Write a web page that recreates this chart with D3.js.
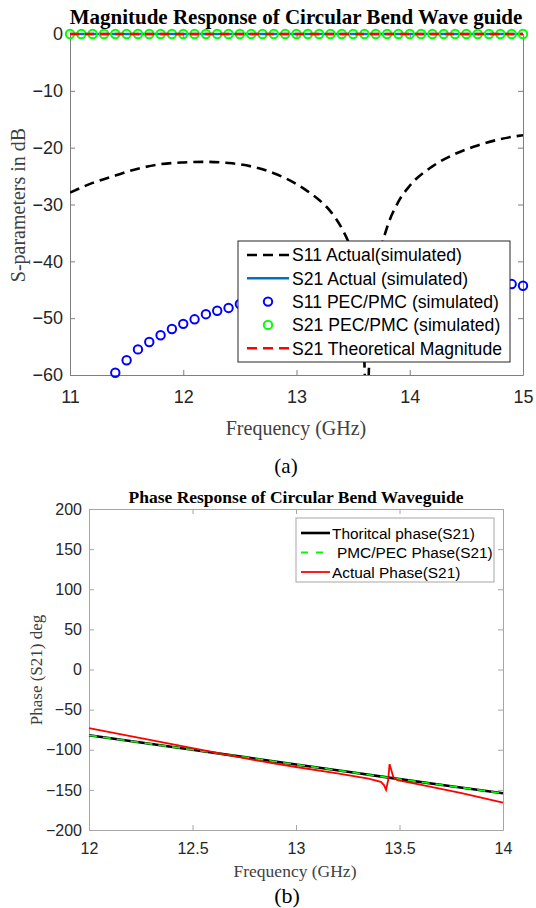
<!DOCTYPE html>
<html lang="en">
    <head>
        <meta charset="utf-8">
        <title>Circular Bend Waveguide</title>
        <script type="text/javascript" src="https://d3js.org/d3.v7.min.js"></script>
        <style type="text/css">
            body{margin:0; background:#fff;}
            svg{display:block;}
            .sans{font-family:"Liberation Sans", Arial, sans-serif;}
            .serif{font-family:"Liberation Serif", "Times New Roman", serif;}
        </style>
    </head>
    <body>
        <div id="chart"></div>
        <script type="text/javascript">

        // ---- (a) magnitude data ----
        var s11ActFreq = [11.0, 11.2, 11.4, 11.6, 11.8, 12.0, 12.2, 12.4, 12.6, 12.8, 13.0, 13.1, 13.2, 13.3, 13.4, 13.45, 13.5, 13.55, 13.6, 13.62, 13.65, 13.7, 13.75, 13.8, 13.9, 14.0, 14.2, 14.4, 14.6, 14.8, 15.0]
        var s11ActDb   = [-27.9, -26.2, -24.9, -23.7, -22.9, -22.6, -22.5, -22.7, -23.3, -24.5, -26.4, -27.7, -29.2, -31.2, -34.2, -36.2, -39.0, -43.5, -58, -70, -52, -42.5, -37.5, -34.0, -29.5, -26.7, -23.3, -21.1, -19.6, -18.5, -17.8]

        var s11PecFreq = [11.4, 11.5, 11.6, 11.7, 11.8, 11.9, 12.0, 12.1, 12.2, 12.3, 12.4, 12.5, 12.6, 12.7, 12.8, 12.9, 13.0, 13.1, 13.2, 13.3, 13.4, 13.5, 13.6, 13.7, 13.8, 13.9, 14.0, 14.1, 14.2, 14.3, 14.4, 14.5, 14.6, 14.7, 14.8, 14.9, 15.0]
        var s11PecDb   = [-59.6, -57.4, -55.5, -54.2, -53.0, -51.9, -51.0, -50.2, -49.3, -48.7, -48.2, -47.5, -47.0, -46.6, -46.2, -45.9, -45.6, -45.4, -45.2, -45.0, -44.9, -44.8, -44.7, -44.6, -44.6, -44.5, -44.5, -44.4, -44.4, -44.4, -44.3, -44.3, -44.3, -44.2, -44.2, -44.0, -44.3]

        var s21Freq = [11.0, 11.1, 11.2, 11.3, 11.4, 11.5, 11.6, 11.7, 11.8, 11.9, 12.0, 12.1, 12.2, 12.3, 12.4, 12.5, 12.6, 12.7, 12.8, 12.9, 13.0, 13.1, 13.2, 13.3, 13.4, 13.5, 13.6, 13.7, 13.8, 13.9, 14.0, 14.1, 14.2, 14.3, 14.4, 14.5, 14.6, 14.7, 14.8, 14.9, 15.0]
        var s21PecDb   = [0, 0, 0, 0, 0, 0, 0, 0, 0, 0, 0, 0, 0, 0, 0, 0, 0, 0, 0, 0, 0, 0, 0, 0, 0, 0, 0, 0, 0, 0, 0, 0, 0, 0, 0, 0, 0, 0, 0, 0, 0]
        var s21ActDb   = [0, 0, 0, 0, 0, 0, 0, 0, 0, 0, 0, 0, 0, 0, 0, 0, 0, 0, 0, 0, 0, 0, 0, 0, 0, 0, 0, 0, 0, 0, 0, 0, 0, 0, 0, 0, 0, 0, 0, 0, 0]
        var s21TheoDb  = [0, 0, 0, 0, 0, 0, 0, 0, 0, 0, 0, 0, 0, 0, 0, 0, 0, 0, 0, 0, 0, 0, 0, 0, 0, 0, 0, 0, 0, 0, 0, 0, 0, 0, 0, 0, 0, 0, 0, 0, 0]

        var magXTicks = [11, 12, 13, 14, 15]
        var magYTicks = [-60, -50, -40, -30, -20, -10, 0]

        // ---- (b) phase data ----
        var theoFreq  = [12.0, 12.25, 12.5, 12.75, 13.0, 13.25, 13.5, 13.75, 14.0]
        var theoPhase = [-82, -91, -100, -109.2, -118.4, -127.5, -136.6, -145.5, -154.3]
        var pecPhase  = [-82, -91, -100, -109.2, -118.4, -127.5, -136.6, -145.5, -154.3]

        var actFreq  = [12.0, 12.2, 12.4, 12.6, 12.8, 13.0, 13.2, 13.35, 13.41, 13.425, 13.435, 13.445, 13.452, 13.46, 13.47, 13.49, 13.6, 13.8, 14.0]
        var actPhase = [-73, -83, -93, -103, -113, -121.5, -129.5, -136, -140, -144, -150, -138, -118, -125, -134, -138, -143.5, -154, -166]

        var phXTicks = [12, 12.5, 13, 13.5, 14]
        var phYTicks = [-200, -150, -100, -50, 0, 50, 100, 150, 200]

        var svg = d3.select("#chart")
                    .append("svg")
                    .attr("width", 536)
                    .attr("height", 908)

        function zip(xs, ys){ return xs.map(function(x, i){ return [x, ys[i]] }) }

        function drawAxes(g, x, y, xt, yt, opt){
            var r = x.range(), t = y.range()
            g.append("g")
             .attr("transform", "translate(0," + t[0] + ")")
             .call(d3.axisBottom(x).tickValues(xt).tickSize(-5).tickSizeOuter(0).tickPadding(opt.xpad).tickFormat(d3.format("")))
            g.append("g")
             .attr("transform", "translate(0," + t[1] + ")")
             .call(d3.axisTop(x).tickValues(xt).tickSize(-5).tickSizeOuter(0).tickFormat(""))
            g.append("g")
             .attr("transform", "translate(" + r[0] + ",0)")
             .call(d3.axisLeft(y).tickValues(yt).tickSize(-5).tickSizeOuter(0).tickPadding(opt.ypad).tickFormat(d3.format("")))
            g.append("g")
             .attr("transform", "translate(" + r[1] + ",0)")
             .call(d3.axisRight(y).tickValues(yt).tickSize(-5).tickSizeOuter(0).tickFormat(""))
            g.selectAll(".domain, .tick line").attr("stroke", opt.axisColor).attr("stroke-width", 1)
            g.selectAll(".tick text")
             .attr("fill", "#262626")
             .style("font-family", "'Liberation Sans', Arial, sans-serif")
             .style("font-size", opt.fontSize + "px")
        }

        // ================= (a) =================
        var x1 = d3.scaleLinear().domain([11, 15]).range([70, 523])
        var y1 = d3.scaleLinear().domain([-60, 0]).range([375, 34])

        svg.append("clipPath").attr("id", "clipA")
           .append("rect").attr("x", 70).attr("y", 30).attr("width", 453).attr("height", 345)

        var gA = svg.append("g")
        drawAxes(gA, x1, y1, magXTicks, magYTicks, {xpad: 15, ypad: 7, axisColor: "#7f7f7f", fontSize: 18})

        var line1 = d3.line().x(function(d){ return x1(d[0]) }).y(function(d){ return y1(d[1]) })

        // S11 actual, clipped at -60 dB like the original axes
        gA.append("path")
          .datum(zip(s11ActFreq, s11ActDb))
          .attr("clip-path", "url(#clipA)")
          .attr("d", line1.curve(d3.curveMonotoneX))
          .attr("fill", "none").attr("stroke", "#000").attr("stroke-width", 2.6)
          .attr("stroke-dasharray", "10,6")
        line1.curve(d3.curveLinear)

        gA.append("path")
          .datum(zip(s21Freq, s21ActDb))
          .attr("d", line1)
          .attr("fill", "none").attr("stroke", "#0072BD").attr("stroke-width", 2.4)

        gA.selectAll("circle.s11pec")
          .data(zip(s11PecFreq, s11PecDb))
          .enter().append("circle")
          .attr("cx", function(d){ return x1(d[0]) })
          .attr("cy", function(d){ return y1(d[1]) })
          .attr("r", 4.2)
          .attr("fill", "none").attr("stroke", "#0000ff").attr("stroke-width", 2)

        gA.selectAll("circle.s21pec")
          .data(zip(s21Freq, s21PecDb))
          .enter().append("circle")
          .attr("cx", function(d){ return x1(d[0]) })
          .attr("cy", function(d){ return y1(d[1]) })
          .attr("r", 4.2)
          .attr("fill", "none").attr("stroke", "#00ff00").attr("stroke-width", 2)

        gA.append("path")
          .datum(zip(s21Freq, s21TheoDb))
          .attr("d", line1)
          .attr("fill", "none").attr("stroke", "#ff0000").attr("stroke-width", 2.4)
          .attr("stroke-dasharray", "9,6")

        // title and labels
        svg.append("text").attr("class", "serif")
           .attr("x", 296).attr("y", 24).attr("text-anchor", "middle")
           .style("font-size", "21px").style("font-weight", "bold").attr("fill", "#000")
           .text("Magnitude Response of Circular Bend Wave guide")
        svg.append("text").attr("class", "serif")
           .attr("transform", "translate(25,205) rotate(-90)").attr("text-anchor", "middle")
           .style("font-size", "20px").attr("fill", "#404040")
           .text("S-parameters in dB")
        svg.append("text").attr("class", "serif")
           .attr("x", 296).attr("y", 435).attr("text-anchor", "middle")
           .style("font-size", "20px").attr("fill", "#404040")
           .text("Frequency (GHz)")
        svg.append("text").attr("class", "serif")
           .attr("x", 286).attr("y", 473).attr("text-anchor", "middle")
           .style("font-size", "21px").attr("fill", "#000")
           .text("(a)")

        // legend (a)
        var legA = svg.append("g").attr("class", "sans")
        legA.append("rect").attr("x", 238).attr("y", 241).attr("width", 272).attr("height", 121)
            .attr("fill", "#fff").attr("stroke", "#262626").attr("stroke-width", 1)
        var legAItems = [
            {label: "S11 Actual(simulated)", type: "line", color: "#000", dash: "10,6"},
            {label: "S21 Actual (simulated)", type: "line", color: "#0072BD", dash: null},
            {label: "S11 PEC/PMC (simulated)", type: "circle", color: "#0000ff"},
            {label: "S21 PEC/PMC (simulated)", type: "circle", color: "#00ff00"},
            {label: "S21 Theoretical Magnitude", type: "line", color: "#ff0000", dash: "10,6"}
        ]
        legAItems.forEach(function(it, i){
            var cy = 255 + i * 23.3
            if (it.type == "line") {
                legA.append("line").attr("x1", 247).attr("x2", 289).attr("y1", cy).attr("y2", cy)
                    .attr("stroke", it.color).attr("stroke-width", 2.5)
                    .attr("stroke-dasharray", it.dash)
            } else {
                legA.append("circle").attr("cx", 268).attr("cy", cy).attr("r", 4.2)
                    .attr("fill", "none").attr("stroke", it.color).attr("stroke-width", 2)
            }
            legA.append("text").attr("x", 292).attr("y", cy + 6.3)
                .style("font-size", "17.6px").attr("fill", "#000")
                .text(it.label)
        })

        // ================= (b) =================
        var x2 = d3.scaleLinear().domain([12, 14]).range([89, 503])
        var y2 = d3.scaleLinear().domain([-200, 200]).range([830, 509])

        var gB = svg.append("g")
        drawAxes(gB, x2, y2, phXTicks, phYTicks, {xpad: 13, ypad: 7, axisColor: "#a6a6a6", fontSize: 16})

        var line2 = d3.line().x(function(d){ return x2(d[0]) }).y(function(d){ return y2(d[1]) })

        gB.append("path")
          .datum(zip(theoFreq, theoPhase))
          .attr("d", line2)
          .attr("fill", "none").attr("stroke", "#000").attr("stroke-width", 2.6)
        gB.append("path")
          .datum(zip(theoFreq, pecPhase))
          .attr("d", line2)
          .attr("fill", "none").attr("stroke", "#00ff00").attr("stroke-width", 1.6)
          .attr("stroke-dasharray", "8,6")
        gB.append("path")
          .datum(zip(actFreq, actPhase))
          .attr("d", line2)
          .attr("fill", "none").attr("stroke", "#ff0000").attr("stroke-width", 1.8)

        svg.append("text").attr("class", "serif")
           .attr("x", 296).attr("y", 503).attr("text-anchor", "middle")
           .style("font-size", "17.5px").style("font-weight", "bold").attr("fill", "#000")
           .text("Phase Response of Circular Bend Waveguide")
        svg.append("text").attr("class", "serif")
           .attr("transform", "translate(42,670) rotate(-90)").attr("text-anchor", "middle")
           .style("font-size", "17px").attr("fill", "#404040")
           .text("Phase (S21) deg")
        svg.append("text").attr("class", "serif")
           .attr("x", 295).attr("y", 877).attr("text-anchor", "middle")
           .style("font-size", "17.5px").attr("fill", "#404040")
           .text("Frequency (GHz)")
        svg.append("text").attr("class", "serif")
           .attr("x", 287).attr("y", 903).attr("text-anchor", "middle")
           .style("font-size", "22px").attr("fill", "#000")
           .text("(b)")

        // legend (b)
        var legB = svg.append("g").attr("class", "sans")
        legB.append("rect").attr("x", 296).attr("y", 518).attr("width", 198).attr("height", 64)
            .attr("fill", "#fff").attr("stroke", "#a6a6a6").attr("stroke-width", 1)
        var legBItems = [
            {label: "Thoritcal phase(S21)", color: "#000", dash: null, w: 2.6, tx: 332},
            {label: "PMC/PEC Phase(S21)", color: "#00ff00", dash: "7,8", w: 1.8, tx: 337},
            {label: "Actual Phase(S21)", color: "#ff0000", dash: null, w: 1.8, tx: 332}
        ]
        legBItems.forEach(function(it, i){
            var cy = 533 + i * 19.5
            legB.append("line").attr("x1", 301).attr("x2", 330).attr("y1", cy).attr("y2", cy)
                .attr("stroke", it.color).attr("stroke-width", it.w)
                .attr("stroke-dasharray", it.dash)
            legB.append("text").attr("x", it.tx).attr("y", cy + 5.5)
                .style("font-size", "15.4px").attr("fill", "#000")
                .text(it.label)
        })

        </script>
    </body>
</html>
